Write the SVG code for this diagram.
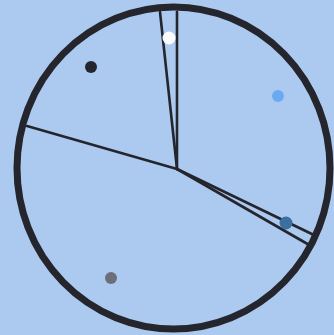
<svg xmlns="http://www.w3.org/2000/svg" width="334" height="335" viewBox="0 0 334 335">
<style>
.ln{stroke:#24252d;stroke-width:2.6;fill:none;stroke-linecap:round}
</style>
<rect width="334" height="335" fill="#acc9ef"/>
<g id="connectors">
<line class="ln" x1="160" y1="12" x2="177" y2="169"/>
<line class="ln" x1="177" y1="12" x2="177" y2="169"/>
<line class="ln" x1="27" y1="126" x2="177" y2="169"/>
<line class="ln" x1="177" y1="169" x2="316" y2="236"/>
<line class="ln" x1="177" y1="169" x2="311" y2="246"/>
</g>
<g id="circle"><ellipse cx="173.5" cy="168" rx="156.5" ry="161" fill="none" stroke="#24252d" stroke-width="7"/></g>
<g id="dot-white"><circle cx="169" cy="38" r="6.5" fill="#fbfcfc"/></g>
<g id="dot-dark"><circle cx="91" cy="67" r="6" fill="#24252e"/></g>
<g id="dot-lightblue"><circle cx="278" cy="96" r="6" fill="#6aaaf0"/></g>
<g id="dot-blue"><circle cx="286" cy="223" r="6.5" fill="#3b6f9e"/></g>
<g id="dot-gray"><circle cx="111" cy="278" r="6" fill="#6c6f78"/></g>
</svg>
